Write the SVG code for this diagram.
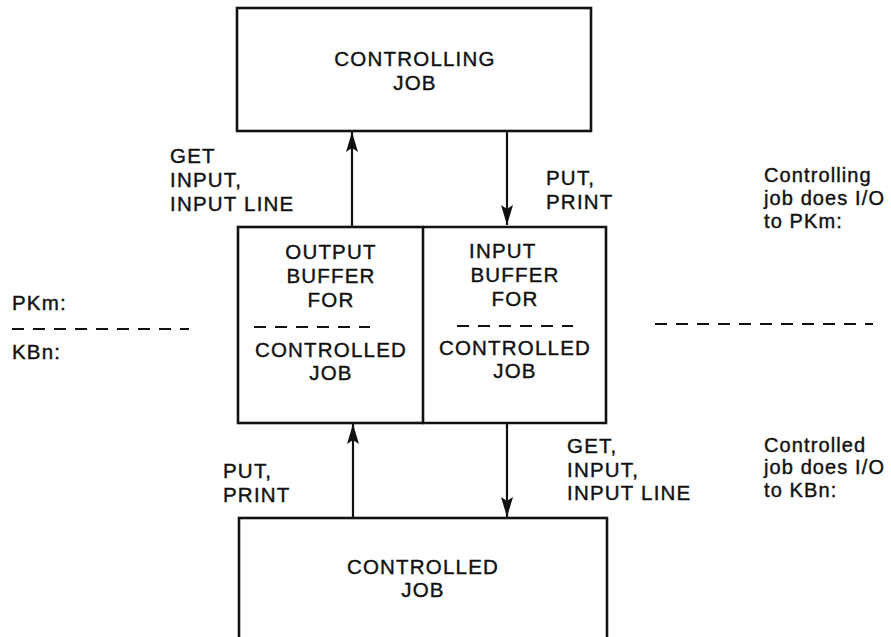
<svg xmlns="http://www.w3.org/2000/svg" width="891" height="637" viewBox="0 0 891 637">
  <style>
    .box { fill: none; stroke: #111; stroke-width: 2.6; }
    .wire { stroke: #111; stroke-width: 2.2; fill: none; }
    .dash { stroke: #111; stroke-width: 2; stroke-dasharray: 12 9; fill: none; }
    text { font-family: "Liberation Sans", Arial, sans-serif; font-size: 20.5px; fill: #111; stroke: #111; stroke-width: 0.4; letter-spacing: 1.2px; }
    .c { text-anchor: middle; }
    .note { font-size: 20px; letter-spacing: 1.1px; }
  </style>
  <defs>
    <marker id="head" viewBox="0 0 20 12" refX="20" refY="6" markerWidth="20" markerHeight="12" markerUnits="userSpaceOnUse" orient="auto">
      <path d="M0,0 L20,6 L0,12 L4,6 Z" fill="#111"/>
    </marker>
  </defs>

  <rect width="891" height="637" fill="#fff"/>

  <!-- upper job -->
  <g id="controlling-job">
    <rect class="box" x="237" y="8" width="354" height="123"/>
    <text class="c" x="415" y="66">CONTROLLING</text>
    <text class="c" x="415" y="90">JOB</text>
  </g>

  <!-- split buffer pair: the right half shares the divider drawn by the left half -->
  <g id="output-buffer">
    <rect class="box" x="238" y="227" width="185" height="196"/>
    <text class="c" x="331" y="259">OUTPUT</text>
    <text class="c" x="331" y="283">BUFFER</text>
    <text class="c" x="331" y="307">FOR</text>
    <line class="dash" x1="254" y1="327" x2="370" y2="327" stroke-dasharray="11 9.6"/>
    <text class="c" x="331" y="357">CONTROLLED</text>
    <text class="c" x="331" y="380">JOB</text>
  </g>
  <g id="input-buffer">
    <path class="box" d="M423,227 H606 V423 H423"/>
    <text x="469" y="258">INPUT</text>
    <text class="c" x="515" y="282">BUFFER</text>
    <text class="c" x="515" y="306">FOR</text>
    <line class="dash" x1="457" y1="326" x2="573" y2="326" stroke-dasharray="11 9.6"/>
    <text class="c" x="515" y="355">CONTROLLED</text>
    <text class="c" x="515" y="378">JOB</text>
  </g>

  <!-- lower job, runs off the bottom edge -->
  <g id="controlled-job">
    <rect class="box" x="239" y="518" width="368" height="140"/>
    <text class="c" x="423" y="574">CONTROLLED</text>
    <text class="c" x="423" y="597">JOB</text>
  </g>

  <g id="connectors">
    <line class="wire" x1="352" y1="227" x2="352" y2="132" marker-end="url(#head)"/>
    <line class="wire" x1="507" y1="131" x2="507" y2="225" marker-end="url(#head)"/>
    <line class="wire" x1="353" y1="518" x2="353" y2="424" marker-end="url(#head)"/>
    <line class="wire" x1="507" y1="423" x2="507" y2="517" marker-end="url(#head)"/>
  </g>

  <g id="labels">
    <text x="170" y="163">GET</text>
    <text x="170" y="187">INPUT,</text>
    <text x="170" y="211">INPUT LINE</text>
    <text x="546" y="185">PUT,</text>
    <text x="546" y="209">PRINT</text>
    <text x="223" y="478">PUT,</text>
    <text x="223" y="502">PRINT</text>
    <text x="567" y="453">GET,</text>
    <text x="567" y="477">INPUT,</text>
    <text x="567" y="500">INPUT LINE</text>
  </g>

  <!-- device boundary: PKm above, KBn below -->
  <g id="device-split">
    <text x="12" y="310">PKm:</text>
    <line class="dash" x1="12" y1="329" x2="189" y2="329"/>
    <text x="12" y="359">KBn:</text>
    <line class="dash" x1="655" y1="324" x2="873" y2="324" stroke-dasharray="11 8.7"/>
  </g>

  <g id="notes">
    <text class="note" x="764" y="182">Controlling</text>
    <text class="note" x="764" y="205">job does I/O</text>
    <text class="note" x="764" y="228">to PKm:</text>
    <text class="note" x="764" y="452">Controlled</text>
    <text class="note" x="764" y="474">job does I/O</text>
    <text class="note" x="764" y="497">to KBn:</text>
  </g>
</svg>
